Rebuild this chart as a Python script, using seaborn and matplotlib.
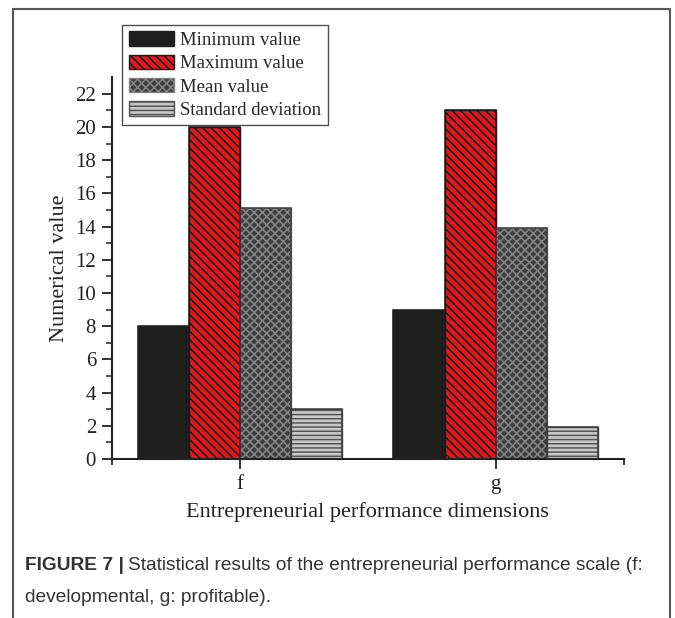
import numpy as np
import pandas as pd
import matplotlib
matplotlib.use("Agg")
import matplotlib.pyplot as plt
import seaborn as sns
from matplotlib.lines import Line2D

dimensions = ["f", "g"]
stats = ["Minimum value", "Maximum value", "Mean value", "Standard deviation"]
min_vals = [8, 9]
max_vals = [20, 21]
mean_vals = [15.15, 13.9]
std_vals = [3.0, 1.95]

df = pd.DataFrame({
    "dim": dimensions * 4,
    "stat": np.repeat(stats, 2),
    "value": min_vals + max_vals + mean_vals + std_vals,
})

sns.set_style("ticks")
plt.rcParams["font.family"] = ["Liberation Serif", "DejaVu Serif"]
plt.rcParams["hatch.linewidth"] = 1.1

fig = plt.figure(figsize=(6.75, 6.18), dpi=100)
ax = fig.add_axes([0.166, 0.2573, 0.758, 0.6177])

colors = ["#1e1e1e", "#e0191c", "#3e3e3e", "#c8c8c8"]
hatches = [None, "\\\\\\\\", "xxxx", "----"]
hatch_edges = ["#1e1e1e", "#1a1a1a", "#858585", "#555555"]
outline = ["#1e1e1e", "#1a1a1a", "#3a3a3a", "#3a3a3a"]

sns.barplot(data=df, x="dim", y="value", hue="stat", hue_order=stats,
            order=dimensions, palette=colors, width=0.8, legend=False,
            saturation=1, ax=ax)

for cont, hatch, ec in zip(ax.containers, hatches, hatch_edges):
    for p in cont:
        p.set_edgecolor(ec)
        p.set_linewidth(1.0)
        if hatch:
            p.set_hatch(hatch)

# dark outlines drawn on top of the hatched bars
for cont, oc in zip(ax.containers, outline):
    for p in cont:
        ax.add_patch(plt.Rectangle(p.get_xy(), p.get_width(), p.get_height(),
                                   fill=False, edgecolor=oc, lw=1.1))

ax.set_ylim(0, 23)
ax.set_xlim(-0.5, 1.5)
ax.set_yticks(np.arange(0, 23, 2))
ax.set_yticks(np.arange(1, 23, 2), minor=True)
ax.set_xticks([-0.5, 1.5], minor=True)
ax.tick_params(axis="both", which="major", direction="out", length=7.5, width=1.3,
               labelsize=15, colors="#222222", pad=4)
ax.tick_params(axis="y", which="minor", direction="out", length=4, width=1.1)
ax.tick_params(axis="x", which="minor", direction="out", length=4, width=1.3)
for s in ["top", "right"]:
    ax.spines[s].set_visible(False)
for s in ["left", "bottom"]:
    ax.spines[s].set_linewidth(1.5)
    ax.spines[s].set_color("#222222")

ax.set_xlabel("Entrepreneurial performance dimensions", fontsize=16,
              color="#222222", labelpad=6)
ax.set_ylabel("Numerical value", fontsize=16, color="#222222", labelpad=0)
ax.yaxis.set_label_coords(-0.085, 0.5)

leg = fig.legend(ax.containers, stats, loc="upper left",
                 bbox_to_anchor=(0.181, 0.96), fontsize=13.5, frameon=True,
                 fancybox=False, handlelength=2.4, handleheight=0.8,
                 labelspacing=0.3, borderpad=0.35, handletextpad=0.35,
                 borderaxespad=0)
leg.get_frame().set_edgecolor("#222222")
leg.get_frame().set_linewidth(1.0)
for h in leg.legend_handles:
    h.set_linewidth(1.0)

# page frame around figure
frame_c = "#555555"
fig.add_artist(Line2D([13 / 675, 13 / 675], [0, 1 - 9 / 618], color=frame_c, lw=1.5))
fig.add_artist(Line2D([670 / 675, 670 / 675], [0, 1 - 9 / 618], color=frame_c, lw=1.5))
fig.add_artist(Line2D([13 / 675, 670 / 675], [1 - 9 / 618, 1 - 9 / 618], color=frame_c, lw=1.5))

# caption
cap_font = ["Liberation Sans", "DejaVu Sans"]
t1 = fig.text(25 / 675, 1 - 566 / 618, "FIGURE 7 |", fontsize=13.8, fontweight="bold",
              family=cap_font, color="#333333", va="center")
fig.canvas.draw()
bb = t1.get_window_extent()
fig.text((bb.x1 + 4) / 675, 1 - 566 / 618,
         "Statistical results of the entrepreneurial performance scale (f:",
         fontsize=13.8, family=cap_font, color="#333333", va="center")
fig.text(25 / 675, 1 - 598 / 618, "developmental, g: profitable).", fontsize=13.8,
         family=cap_font, color="#333333", va="center")

fig.savefig("out.png", dpi=100)
